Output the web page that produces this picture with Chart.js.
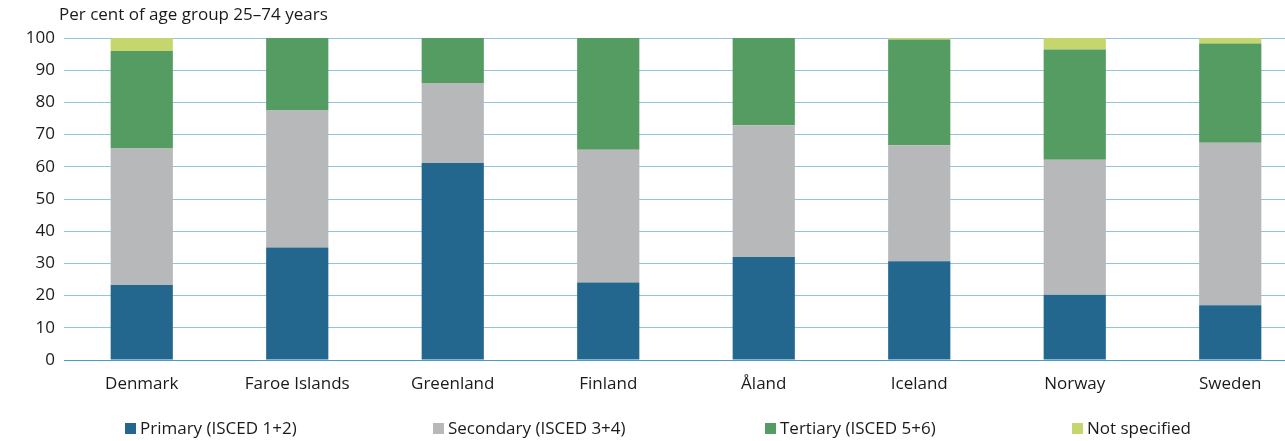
<!DOCTYPE html>
<html>
<head>
<meta charset="utf-8">
<script src="https://cdn.jsdelivr.net/npm/chart.js@4"></script>
<style>
  html, body { margin: 0; padding: 0; background: #fff; overflow: hidden; width: 1285px; height: 441px; }
  #wrap { position: absolute; left: 0; top: 0; width: 1308px; height: 441px; }
  #legend { position: absolute; left: 0; top: 0; width: 1285px; height: 441px; pointer-events: none;
            font-family: "Open Sans", sans-serif; font-size: 17px; color: #1a1a1a; }
  .li { position: absolute; top: 417px; display: flex; align-items: center; white-space: nowrap; line-height: 22px; }
  .sw { width: 11px; height: 11px; margin-right: 4px; display: inline-block; }
</style>
</head>
<body>
<div id="wrap"><canvas id="c"></canvas></div>
<div id="legend"></div>
<script>
const categories = ["Denmark", "Faroe Islands", "Greenland", "Finland", "Åland", "Iceland", "Norway", "Sweden"];
const primary    = [23.3, 34.9, 61.2, 24.1, 32.0, 30.7, 20.3, 17.0];
const secondary  = [42.4, 42.6, 24.8, 41.2, 40.9, 36.0, 41.9, 50.5];
const tertiary   = [30.3, 22.5, 14.0, 34.7, 27.1, 32.8, 34.2, 30.8];
const notSpec    = [4.0, 0, 0, 0, 0, 0.5, 3.6, 1.7];
const seriesNames = ["Primary (ISCED 1+2)", "Secondary (ISCED 3+4)", "Tertiary (ISCED 5+6)", "Not specified"];
const yTicks = [0, 10, 20, 30, 40, 50, 60, 70, 80, 90, 100];
const yTitle = "Per cent of age group 25–74 years";

const colors = ["#23678f", "#b7b8ba", "#549c62", "#c5d66f"];
const legendLeft = [125, 433, 765, 1072];
const FONT = '"Open Sans", sans-serif';
const TXT = "#1a1a1a";

const seriesData = [primary, secondary, tertiary, notSpec];
const datasets = seriesData.map((d, i) => ({
  label: seriesNames[i],
  data: d,
  backgroundColor: colors[i],
  borderWidth: 0,
  barPercentage: 0.4,
  categoryPercentage: 1.0
}));

const titlePlugin = {
  id: 'ytitle',
  afterDraw(chart) {
    const ctx = chart.ctx;
    ctx.save();
    ctx.font = '17px ' + FONT;
    ctx.fillStyle = TXT;
    ctx.textAlign = 'left';
    ctx.textBaseline = 'middle';
    ctx.fillText(yTitle, chart.chartArea.left - 5, 15);
    ctx.restore();
  }
};

new Chart(document.getElementById('c'), {
  type: 'bar',
  data: { labels: categories, datasets },
  options: {
    responsive: true,
    maintainAspectRatio: false,
    animation: false,
    layout: { padding: { top: 38, right: 0, bottom: 41, left: 0 } },
    plugins: { legend: { display: false }, tooltip: { enabled: false }, title: { display: false } },
    scales: {
      x: {
        stacked: true,
        offset: true,
        grid: { display: false, drawTicks: false },
        border: { display: false },
        ticks: { color: TXT, font: { family: FONT, size: 17 }, padding: 14, maxRotation: 0, autoSkip: false },
        afterFit(s) { s.height = 40; }
      },
      y: {
        stacked: true,
        min: 0, max: 100,
        afterBuildTicks(s) { s.ticks = yTicks.map(v => ({ value: v })); },
        grid: {
          color: ctx => (ctx.tick && ctx.tick.value === 0) ? '#4a9bd2' : '#8ec4e5',
          lineWidth: 1,
          drawTicks: false
        },
        border: { display: false },
        ticks: { color: TXT, font: { family: FONT, size: 17 }, padding: 9 },
        afterFit(s) { s.width = 64; }
      }
    }
  },
  plugins: [titlePlugin]
});

const leg = document.getElementById('legend');
seriesNames.forEach((n, i) => {
  const d = document.createElement('div');
  d.className = 'li';
  d.style.left = legendLeft[i] + 'px';
  d.innerHTML = '<span class="sw" style="background:' + colors[i] + '"></span><span></span>';
  d.lastChild.textContent = n;
  leg.appendChild(d);
});
</script>
</body>
</html>
